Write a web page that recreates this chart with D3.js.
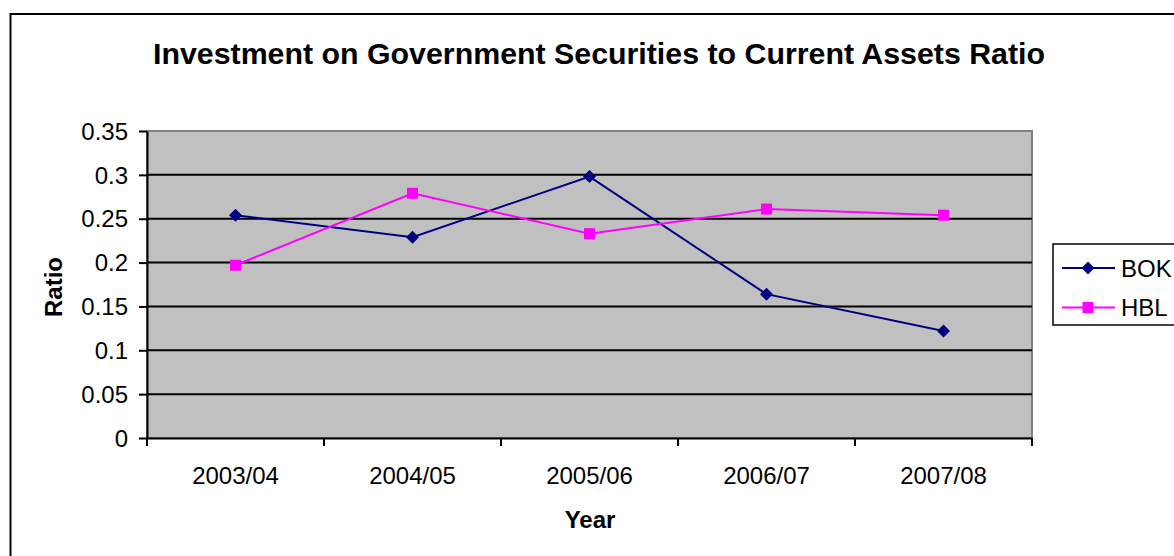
<!DOCTYPE html>
<html><head><meta charset="utf-8">
<script src="https://cdn.jsdelivr.net/npm/d3@7"></script>
<style>body{margin:0;background:#fff}svg{display:block}text{font-family:"Liberation Sans",Arial,sans-serif}</style>
</head><body>
<svg id="c" width="1174" height="556"></svg>
<script>
const categories = ["2003/04","2004/05","2005/06","2006/07","2007/08"];
const bok = [0.254, 0.229, 0.298, 0.164, 0.122];
const hbl = [0.197, 0.279, 0.233, 0.261, 0.254];
const yTicks = [0,0.05,0.1,0.15,0.2,0.25,0.3,0.35];
const seriesNames = ["BOK","HBL"];
const seriesColors = ["#000080","#FF00FF"];

const svg = d3.select("#c");
const L=147, R=1032, T=131, B=438;
const x = d3.scaleBand().domain(categories).range([L,R]);
const y = d3.scaleLinear().domain([0,0.35]).range([B,T]);

// outer frame
svg.append("rect").attr("x",10.5).attr("y",14).attr("width",1200).attr("height",600)
  .attr("fill","#fff").attr("stroke","#000").attr("stroke-width",2);

// plot background
svg.append("rect").attr("x",L).attr("y",T).attr("width",R-L).attr("height",B-T)
  .attr("fill","#C0C0C0").attr("stroke","#808080").attr("stroke-width",2);

// gridlines
svg.append("g").selectAll("line").data(yTicks.filter(d=>d>0 && d<0.35)).join("line")
  .attr("x1",L).attr("x2",R).attr("y1",d=>y(d)).attr("y2",d=>y(d))
  .attr("stroke","#000").attr("stroke-width",2);

// y axis
const yAxis = svg.append("g").attr("transform",`translate(${L},0)`)
  .call(d3.axisLeft(y).tickValues(yTicks).tickFormat(d=>d===0?"0":String(+d.toFixed(2))).tickSize(8).tickSizeOuter(0));
yAxis.select(".domain").attr("stroke","#000").attr("stroke-width",2);
yAxis.selectAll(".tick line").attr("stroke","#000").attr("stroke-width",2);
yAxis.selectAll(".tick text").attr("font-size",24).attr("fill","#000").attr("x",-19).attr("dy","0.34em").attr("font-family","Liberation Sans, Arial, sans-serif");

// x axis
const xAxis = svg.append("g").attr("transform",`translate(0,${B})`)
  .call(d3.axisBottom(x).tickSize(0).tickSizeOuter(0));
xAxis.select(".domain").attr("stroke","#000").attr("stroke-width",2);
xAxis.selectAll(".tick text").attr("font-size",24).attr("fill","#000").attr("y",46).attr("dy",0).attr("font-family","Liberation Sans, Arial, sans-serif");
// x category boundary ticks
const bounds = categories.map(c=>x(c)).concat([x(categories[categories.length-1])+x.bandwidth()]);
svg.append("g").selectAll("line").data(bounds).join("line")
  .attr("x1",d=>d).attr("x2",d=>d).attr("y1",B).attr("y2",B+8)
  .attr("stroke","#000").attr("stroke-width",2);

// series
const cx = c => x(c)+x.bandwidth()/2;
const line = d3.line().x((d,i)=>cx(categories[i])).y(d=>y(d));
const diamond = (s)=>`M0,${-s}L${s},0L0,${s}L${-s},0Z`;
[bok,hbl].forEach((vals,si)=>{
  svg.append("path").datum(vals).attr("d",line).attr("fill","none")
    .attr("stroke",seriesColors[si]).attr("stroke-width",2);
  const g = svg.append("g");
  vals.forEach((v,i)=>{
    if(si===0){
      g.append("path").attr("d",diamond(6.5)).attr("transform",`translate(${cx(categories[i])},${y(v)})`).attr("fill",seriesColors[si]);
    } else {
      g.append("rect").attr("x",cx(categories[i])-5.5).attr("y",y(v)-5.5).attr("width",11).attr("height",11).attr("fill",seriesColors[si]);
    }
  });
});

// title
svg.append("text").attr("x",599).attr("y",63.5).attr("text-anchor","middle")
  .attr("font-size",30).attr("font-weight","bold").attr("fill","#000")
  .attr("textLength",892).attr("lengthAdjust","spacingAndGlyphs")
  .text("Investment on Government Securities to Current Assets Ratio");

// axis titles
svg.append("text").attr("transform",`translate(62,287) rotate(-90)`).attr("text-anchor","middle")
  .attr("font-size",24).attr("font-weight","bold").attr("fill","#000").text("Ratio");
svg.append("text").attr("x",590).attr("y",528).attr("text-anchor","middle")
  .attr("font-size",24).attr("font-weight","bold").attr("fill","#000").text("Year");

// legend
const lg = svg.append("g");
lg.append("rect").attr("x",1053).attr("y",244).attr("width",140).attr("height",81)
  .attr("fill","#fff").attr("stroke","#000").attr("stroke-width",1.5);
seriesNames.forEach((n,i)=>{
  const yy = 268 + i*39.5;
  lg.append("line").attr("x1",1062).attr("x2",1115).attr("y1",yy).attr("y2",yy).attr("stroke",seriesColors[i]).attr("stroke-width",2);
  if(i===0) lg.append("path").attr("d",diamond(6.5)).attr("transform",`translate(1088,${yy})`).attr("fill",seriesColors[i]);
  else lg.append("rect").attr("x",1088-5.5).attr("y",yy-5.5).attr("width",11).attr("height",11).attr("fill",seriesColors[i]);
  lg.append("text").attr("x",1121).attr("y",yy+8.5).attr("font-size",24).attr("fill","#000").text(n);
});
</script>
</body></html>
